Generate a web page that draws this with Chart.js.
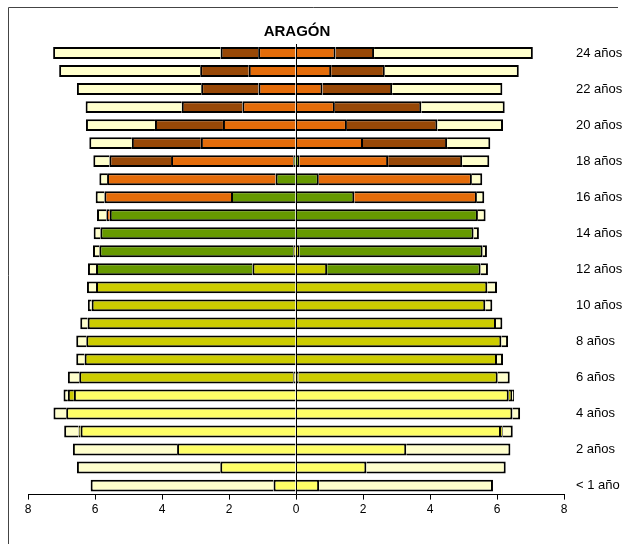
<!DOCTYPE html>
<html>
<head>
<meta charset="utf-8">
<script src="https://cdn.jsdelivr.net/npm/chart.js@4.4.1/dist/chart.umd.min.js"></script>
<style>
  body { margin: 0; background: #fff; }
  #wrap { width: 625px; height: 544px; position: relative; }
</style>
</head>
<body>
<div id="wrap"><canvas id="pyramid"></canvas></div>
<script>
// edades, de abajo (< 1 año) hacia arriba (24 años)
const ages = ["< 1 año", "1 año", "2 años", "3 años", "4 años", "5 años", "6 años", "7 años",
  "8 años", "9 años", "10 años", "11 años", "12 años", "13 años", "14 años", "15 años",
  "16 años", "17 años", "18 años", "19 años", "20 años", "21 años", "22 años", "23 años", "24 años"];

const xTicks = [-8, -6, -4, -2, 0, 2, 4, 6, 8];

// lado izquierdo (%)
const leftInfantil = [0.67, 2.26, 3.55, 6.43, 6.86, 6.63, 0.08, null, null, null, null, null, null, null, null, null, null, null, null, null, null, null, null, null, null];
const leftPrimaria = [null, null, null, 0.06, null, 0.18, 6.39, 6.31, 6.26, 6.22, 6.10, 5.97, 1.30, 0.08, null, null, null, null, null, null, null, null, null, null, null];
const leftEso = [null, null, null, null, null, null, null, null, null, null, null, null, 4.67, 5.79, 5.84, 5.56, 1.94, 0.61, 0.08, null, null, null, null, null, null];
const leftPostObl = [null, null, null, null, null, null, null, null, null, null, null, null, null, null, null, 0.10, 3.78, 5.03, 3.65, 2.84, 2.18, 1.60, 1.12, 1.41, 1.13];
const leftSuperior = [null, null, null, null, null, null, null, null, null, null, null, null, null, null, null, null, null, null, 1.84, 2.06, 2.03, 1.81, 1.71, 1.45, 1.12];
const leftNoEsc = [5.46, 4.28, 3.11, 0.43, 0.38, 0.13, 0.34, 0.25, 0.30, 0.22, 0.11, 0.27, 0.24, 0.19, 0.20, 0.28, 0.26, 0.23, 0.48, 1.27, 2.06, 2.87, 3.71, 4.21, 5.00];

// lado derecho (%)
const rightInfantil = [0.69, 2.10, 3.29, 6.12, 6.46, 6.35, 0.07, null, null, null, null, null, null, null, null, null, null, null, null, null, null, null, null, null, null];
const rightPrimaria = [null, null, null, 0.05, null, 0.10, 5.95, 6.00, 6.13, 5.97, 5.65, 5.71, 0.93, 0.10, null, null, null, null, null, null, null, null, null, null, null];
const rightEso = [null, null, null, null, null, null, null, null, null, null, null, null, 4.58, 5.47, 5.30, 5.43, 1.74, 0.68, 0.10, null, null, null, null, null, null];
const rightPostObl = [null, null, null, null, null, null, null, null, null, null, null, null, null, null, null, null, 3.66, 4.57, 2.65, 2.00, 1.52, 1.16, 0.79, 1.05, 1.18];
const rightSuperior = [null, null, null, null, null, null, null, null, null, null, null, null, null, null, null, null, null, null, 2.21, 2.51, 2.70, 2.58, 2.08, 1.60, 1.15];
const rightNoEsc = [5.19, 4.16, 3.11, 0.30, 0.23, 0.06, 0.36, 0.18, 0.20, 0.19, 0.21, 0.29, 0.22, 0.13, 0.16, 0.23, 0.22, 0.31, 0.81, 1.29, 1.96, 2.49, 3.29, 4.00, 4.74];

const levels = ["Infantil", "Primaria", "ESO", "Postobligatoria", "Superior", "No escolarizado"];
const colors = ["#FFFF66", "#CCCC00", "#669900", "#E46C0A", "#984807", "#FFFFCC"];

const leftSets = [leftInfantil, leftPrimaria, leftEso, leftPostObl, leftSuperior, leftNoEsc];
const rightSets = [rightInfantil, rightPrimaria, rightEso, rightPostObl, rightSuperior, rightNoEsc];

const FONT = "Arial, 'Liberation Sans', sans-serif";

const datasets = [];
leftSets.forEach((arr, i) => {
  datasets.push({
    label: levels[i],
    data: arr.map(v => v == null ? null : -v),
    backgroundColor: colors[i]
  });
});
rightSets.forEach((arr, i) => {
  datasets.push({
    label: levels[i],
    data: arr,
    backgroundColor: colors[i]
  });
});

// marco gris y título centrado sobre el eje 0
const frame = {
  id: "frame",
  beforeDraw(chart) {
    const ctx = chart.ctx;
    ctx.save();
    ctx.strokeStyle = "#444";
    ctx.lineWidth = 1;
    ctx.beginPath();
    ctx.moveTo(8.5, 544);
    ctx.lineTo(8.5, 7.5);
    ctx.lineTo(618, 7.5);
    ctx.stroke();
    ctx.restore();
  },
  afterDraw(chart) {
    const ctx = chart.ctx;
    const x = chart.scales.x.getPixelForValue(0);
    ctx.save();
    ctx.fillStyle = "#000";
    ctx.font = "bold 15px " + FONT;
    ctx.textAlign = "center";
    ctx.textBaseline = "middle";
    ctx.fillText("ARAGÓN", x + 1, 32);
    ctx.restore();
  }
};

const zeroLine = {
  id: "zeroLine",
  afterDatasetsDraw(chart) {
    const { ctx, chartArea, scales } = chart;
    const x = Math.round(scales.x.getPixelForValue(0)) + 0.5;
    ctx.save();
    ctx.strokeStyle = "#000";
    ctx.lineWidth = 1;
    ctx.beginPath();
    ctx.moveTo(x, chartArea.top);
    ctx.lineTo(x, chartArea.bottom);
    ctx.stroke();
    ctx.restore();
  }
};

new Chart(document.getElementById("pyramid"), {
  type: "bar",
  data: { labels: ages, datasets },
  options: {
    indexAxis: "y",
    responsive: true,
    maintainAspectRatio: false,
    animation: false,
    layout: { padding: { left: 28, right: 0, top: 44, bottom: 24 } },
    datasets: {
      bar: {
        borderColor: "#000",
        borderWidth: 2,
        barPercentage: 0.66,
        categoryPercentage: 1
      }
    },
    plugins: {
      legend: { display: false },
      tooltip: { enabled: false },
      title: { display: false }
    },
    scales: {
      x: {
        stacked: true,
        min: -8,
        max: 8,
        afterBuildTicks: s => { s.ticks = xTicks.map(v => ({ value: v })); },
        ticks: {
          color: "#000",
          font: { family: FONT, size: 12 },
          padding: 3,
          maxRotation: 0,
          callback: v => Math.abs(v)
        },
        grid: { drawOnChartArea: false, drawTicks: true, tickLength: 5, color: "#000" },
        border: { display: true, color: "#000" }
      },
      y: {
        stacked: true,
        position: "right",
        reverse: true,
        grid: { display: false, drawTicks: false },
        border: { display: false },
        afterFit: s => { s.width = 61; },
        ticks: {
          autoSkip: false,
          color: "#000",
          padding: 12,
          font: { family: FONT, size: 13 },
          callback: (v, i) => i % 2 === 0 ? ages[i] : ""
        }
      }
    }
  },
  plugins: [frame, zeroLine]
});
</script>
</body>
</html>
